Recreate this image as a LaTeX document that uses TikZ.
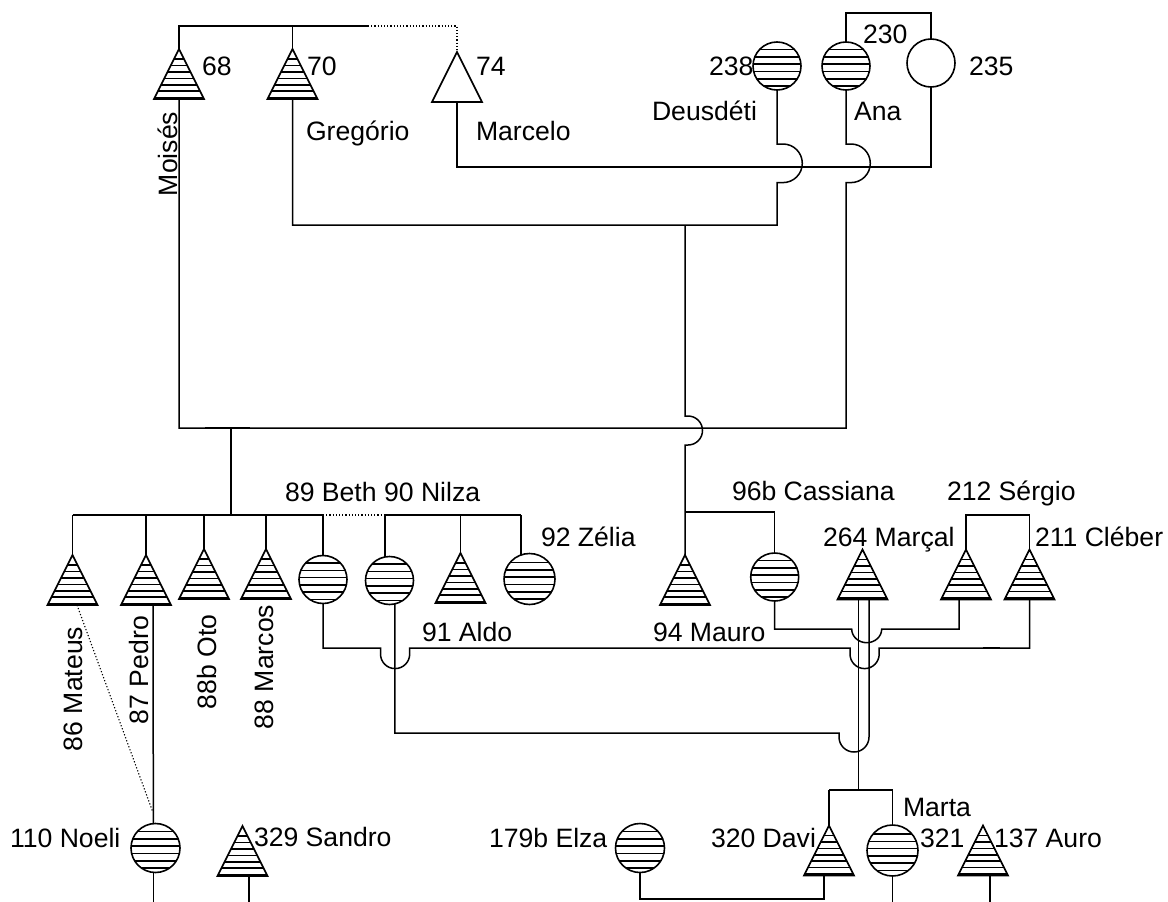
\documentclass[tikz,border=0pt]{standalone}
\usepackage{fontspec}
\setmainfont{Liberation Sans}
\usetikzlibrary{shapes.geometric}
\begin{document}
\begin{tikzpicture}[x=1pt,y=-1pt,
  ln/.style={line width=1.5pt},
  dotln/.style={line width=1.1pt, dash pattern=on 1.2pt off 2pt},
  tri/.style={draw, line width=1.6pt, isosceles triangle, isosceles triangle stretches,
    shape border rotate=90, minimum width=50pt, minimum height=50pt,
    inner sep=0pt, outer sep=0pt, anchor=apex},
  htri/.style={tri, path picture={
    \foreach \k in {0,...,6}
      \draw[line width=1.6pt] ([yshift=1.5pt+\k*6.4pt]path picture bounding box.south west)
        -- ([yshift=1.5pt+\k*6.4pt]path picture bounding box.south east);}},
  circ/.style={draw, line width=1.6pt, circle, inner sep=0pt, outer sep=0pt, minimum size=48pt},
  hcirc/.style={circ, path picture={
    \foreach \o in {-16.5,-9.2,-1.9,5.4,12.7,20}
      \draw[line width=1.6pt] ([yshift=-\o pt]path picture bounding box.west)
        -- ([yshift=-\o pt]path picture bounding box.east);}},
  lbl/.style={font=\fontsize{26.6}{30}\selectfont, inner sep=0pt, outer sep=0pt, anchor=base west},
  vlbl/.style={lbl, rotate=90}
]
\fill[white] (0,0) rectangle (1168,902);
\useasboundingbox (0,0) rectangle (1168,902);

% ---------- people ----------
\node[htri] (t68) at (179,49) {};
\node[htri] (t70) at (292.5,49) {};
\node[tri] (t74) at (457,52) {};
\node[hcirc] (c238) at (777,66) {};
\node[hcirc] (cAna) at (846,66) {};
\node[circ] (c235) at (931,63) {};

\node[htri] (tMat) at (72.5,555) {};
\node[htri] (tPed) at (146,555) {};
\node[htri] (tOto) at (204,549) {};
\node[htri] (tMarcos) at (266,549) {};
\node[hcirc] (cBeth) at (323,579.5) {};
\node[hcirc] (cNil) at (389.5,580.5) {};
\node[htri] (tAldo) at (460.5,553) {};
\node[hcirc, minimum size=51pt] (cZel) at (529.5,579) {};
\node[htri] (tMauro) at (685,555) {};
\node[hcirc] (cCass) at (774.7,577) {};
\node[htri] (tMarcal) at (862.5,549.5) {};
\node[htri] (tSerg) at (966,549.5) {};
\node[htri] (tCleb) at (1029.5,549.5) {};

\node[hcirc, minimum size=49pt] (cNoeli) at (155.5,848) {};
\node[htri] (tSandro) at (242.5,826) {};
\node[hcirc, minimum size=49pt] (cElza) at (640,848) {};
\node[htri] (tDavi) at (829,825.5) {};
\node[hcirc, minimum size=51pt] (cMarta) at (892.5,850.5) {};
\node[htri] (tAuro) at (983,825.5) {};

% ---------- labels ----------
\node[lbl] (l68) at (202,75) {68};
\node[lbl] (l70) at (307,75) {70};
\node[lbl] (l74) at (476,75) {74};
\node[lbl] (lGreg) at (306,140) {Gregório};
\node[lbl] (lMarcelo) at (476,140) {Marcelo};
\node[vlbl] (lMoi) at (177,196) {Moisés};
\node[lbl] (l238) at (709,75) {238};
\node[lbl] (l230) at (863,43) {230};
\node[lbl] (l235) at (969,75) {235};
\node[lbl] (lDeus) at (652,120) {Deusdéti};
\node[lbl] (lAna) at (854,120) {Ana};

\node[lbl] (lBN) at (285,501) {89 Beth 90 Nilza};
\node[lbl] (lZel) at (541,546) {92 Zélia};
\node[lbl] (lCass) at (732,500) {96b Cassiana};
\node[lbl] (lSerg) at (947,500) {212 Sérgio};
\node[lbl] (lMarcal) at (823,546) {264 Marçal};
\node[lbl] (lCleb) at (1035,546) {211 Cléber};
\node[lbl] (lAldo) at (422,641) {91 Aldo};
\node[lbl] (lMauro) at (653,641) {94 Mauro};
\node[vlbl] (lMat) at (82,751) {86 Mateus};
\node[vlbl] (lPed) at (148.5,724) {87 Pedro};
\node[vlbl] (lOto) at (216,709) {88b Oto};
\node[vlbl] (lMarcos) at (273.6,729) {88 Marcos};

\node[lbl] (lNoeli) at (10,847) {110 Noeli};
\node[lbl] (lSandro) at (254,846) {329 Sandro};
\node[lbl] (lElza) at (489,847) {179b Elza};
\node[lbl] (lDavi) at (711,847) {320 Davi};
\node[lbl] (lMarta) at (903,816) {Marta};
\node[lbl] (l321) at (920,847) {321};
\node[lbl] (lAuro) at (994,847) {137 Auro};

% ---------- helper coordinates ----------
\coordinate (topbar) at (0,26);
\coordinate (sibA) at (231,515);
\coordinate (mA) at (231,428);
\coordinate (mB) at (685,225);
\coordinate (sibB) at (685,512);
\coordinate (sibC) at (858.3,790);
\coordinate (bot) at (0,902);
\coordinate (pd) at (152.8,812);

% ---------- connectors ----------
% 68 / 70 / 74 siblings
\draw[ln] (t68.apex) -- (t68.apex |- topbar) -- (368,26);
\draw[ln] (t70.apex |- topbar) -- (t70.apex);
\draw[dotln] (368,26) -- (t74.apex |- topbar) -- (t74.apex);

% Ana -- 235
\draw[ln] (cAna.north) -- (846,13) -- (931,13) -- (c235.north);
% Marcelo -- 235
\draw[ln] (t74.south) -- (457,167) -- (931,167) -- (c235.south);
% Gregorio -- Deusdeti
\draw[ln] (c238.south) -- (777,144) -- ++(6,0) arc[start angle=90,end angle=-90,radius=19.3pt]
  -- ++(-6,0) -- (777,225) -- (t70.south |- mB) -- (t70.south);
% Moises -- Ana
\draw[ln] (cAna.south) -- (846,144) -- ++(5,0) arc[start angle=90,end angle=-90,radius=19.3pt]
  -- ++(-5,0) -- (846,428) -- (t68.south |- mA) -- (t68.south);
\draw[line width=1.9pt] (205,428.3) -- (250,428.3);

% children of Moises and Ana
\draw[ln] (mA) -- (sibA);
\draw[ln] (tMat.apex |- sibA) -- (cBeth.north |- sibA);
\draw[dotln] (cBeth.north |- sibA) -- (cNil.101 |- sibA);
\draw[ln] (cNil.101 |- sibA) -- (cZel.110 |- sibA);
\foreach \n in {tMat.apex, tPed.apex, tOto.apex, tMarcos.apex, cBeth.north, cNil.101, tAldo.apex, cZel.110}
  \draw[ln] (\n |- sibA) -- (\n);

% children of Gregorio and Deusdeti
\draw[ln] (mB) -- (685,416) -- ++(3,0) arc[start angle=90,end angle=-90,radius=14.5pt]
  -- ++(-3,0) -- (sibB) -- (tMauro.apex);
\draw[ln] (sibB) -- (cCass.north |- sibB) -- (cCass.north);

% Sergio / Cleber siblings
\draw[ln] (tSerg.apex) -- (tSerg.apex |- sibA) -- (tCleb.apex |- sibA) -- (tCleb.apex);

% Cassiana -- Sergio
\draw[ln] (cCass.south) -- (774.7,629) -- (851.7,629)
  arc[start angle=180,end angle=360,x radius=15pt,y radius=13.7pt]
  -- ([xshift=-7pt]tSerg.south |- 0,629) -- ([xshift=-7pt]tSerg.south);

% Beth -- Cleber
\draw[ln] (cBeth.south) -- (323,648) -- (380.5,648) -- ++(0,6)
  arc[start angle=180,end angle=360,radius=14.6pt] -- ++(0,-6) -- (850,648) -- ++(0,6)
  arc[start angle=180,end angle=360,radius=14.6pt] -- ++(0,-6) -- (tCleb.south |- 0,648) -- (tCleb.south);
\draw[line width=1.9pt] (983,648.3) -- (1000,648.3);

% Nilza -- Marcal
\draw[ln] (cNil.-77) -- (cNil.-77 |- 0,733) -- (839,733) -- ++(0,4)
  arc[start angle=180,end angle=360,radius=15pt] -- ++(0,-4) -- ([xshift=6.5pt]tMarcal.south);

% children of Marcal line
\draw[ln] ([xshift=-4.2pt]tMarcal.south) -- (sibC);
\draw[ln] (tDavi.apex |- sibC) -- (cMarta.north |- sibC);
\draw[ln] (tDavi.apex |- sibC) -- (tDavi.apex);
\draw[ln] (cMarta.north |- sibC) -- (cMarta.north);

% Elza -- Davi
\draw[ln] (cElza.south) -- (640,899) -- ([xshift=-5pt]tDavi.south |- 0,899) -- ([xshift=-5pt]tDavi.south);

% Pedro -- Noeli, Mateus dotted
\draw[ln] ([xshift=7pt]tPed.south) -- (cNoeli.95);
\draw[dotln] ([xshift=4.5pt]tMat.south) -- (pd);

% lines leaving the bottom edge
\draw[ln] (cNoeli.-95) -- (cNoeli.-95 |- bot);
\draw[ln] ([xshift=6.5pt]tSandro.south) -- ([xshift=6.5pt]tSandro.south |- bot);
\draw[ln] (cMarta.south) -- (cMarta.south |- bot);
\draw[ln] ([xshift=7pt]tAuro.south) -- ([xshift=7pt]tAuro.south |- bot);
\end{tikzpicture}
\end{document}
